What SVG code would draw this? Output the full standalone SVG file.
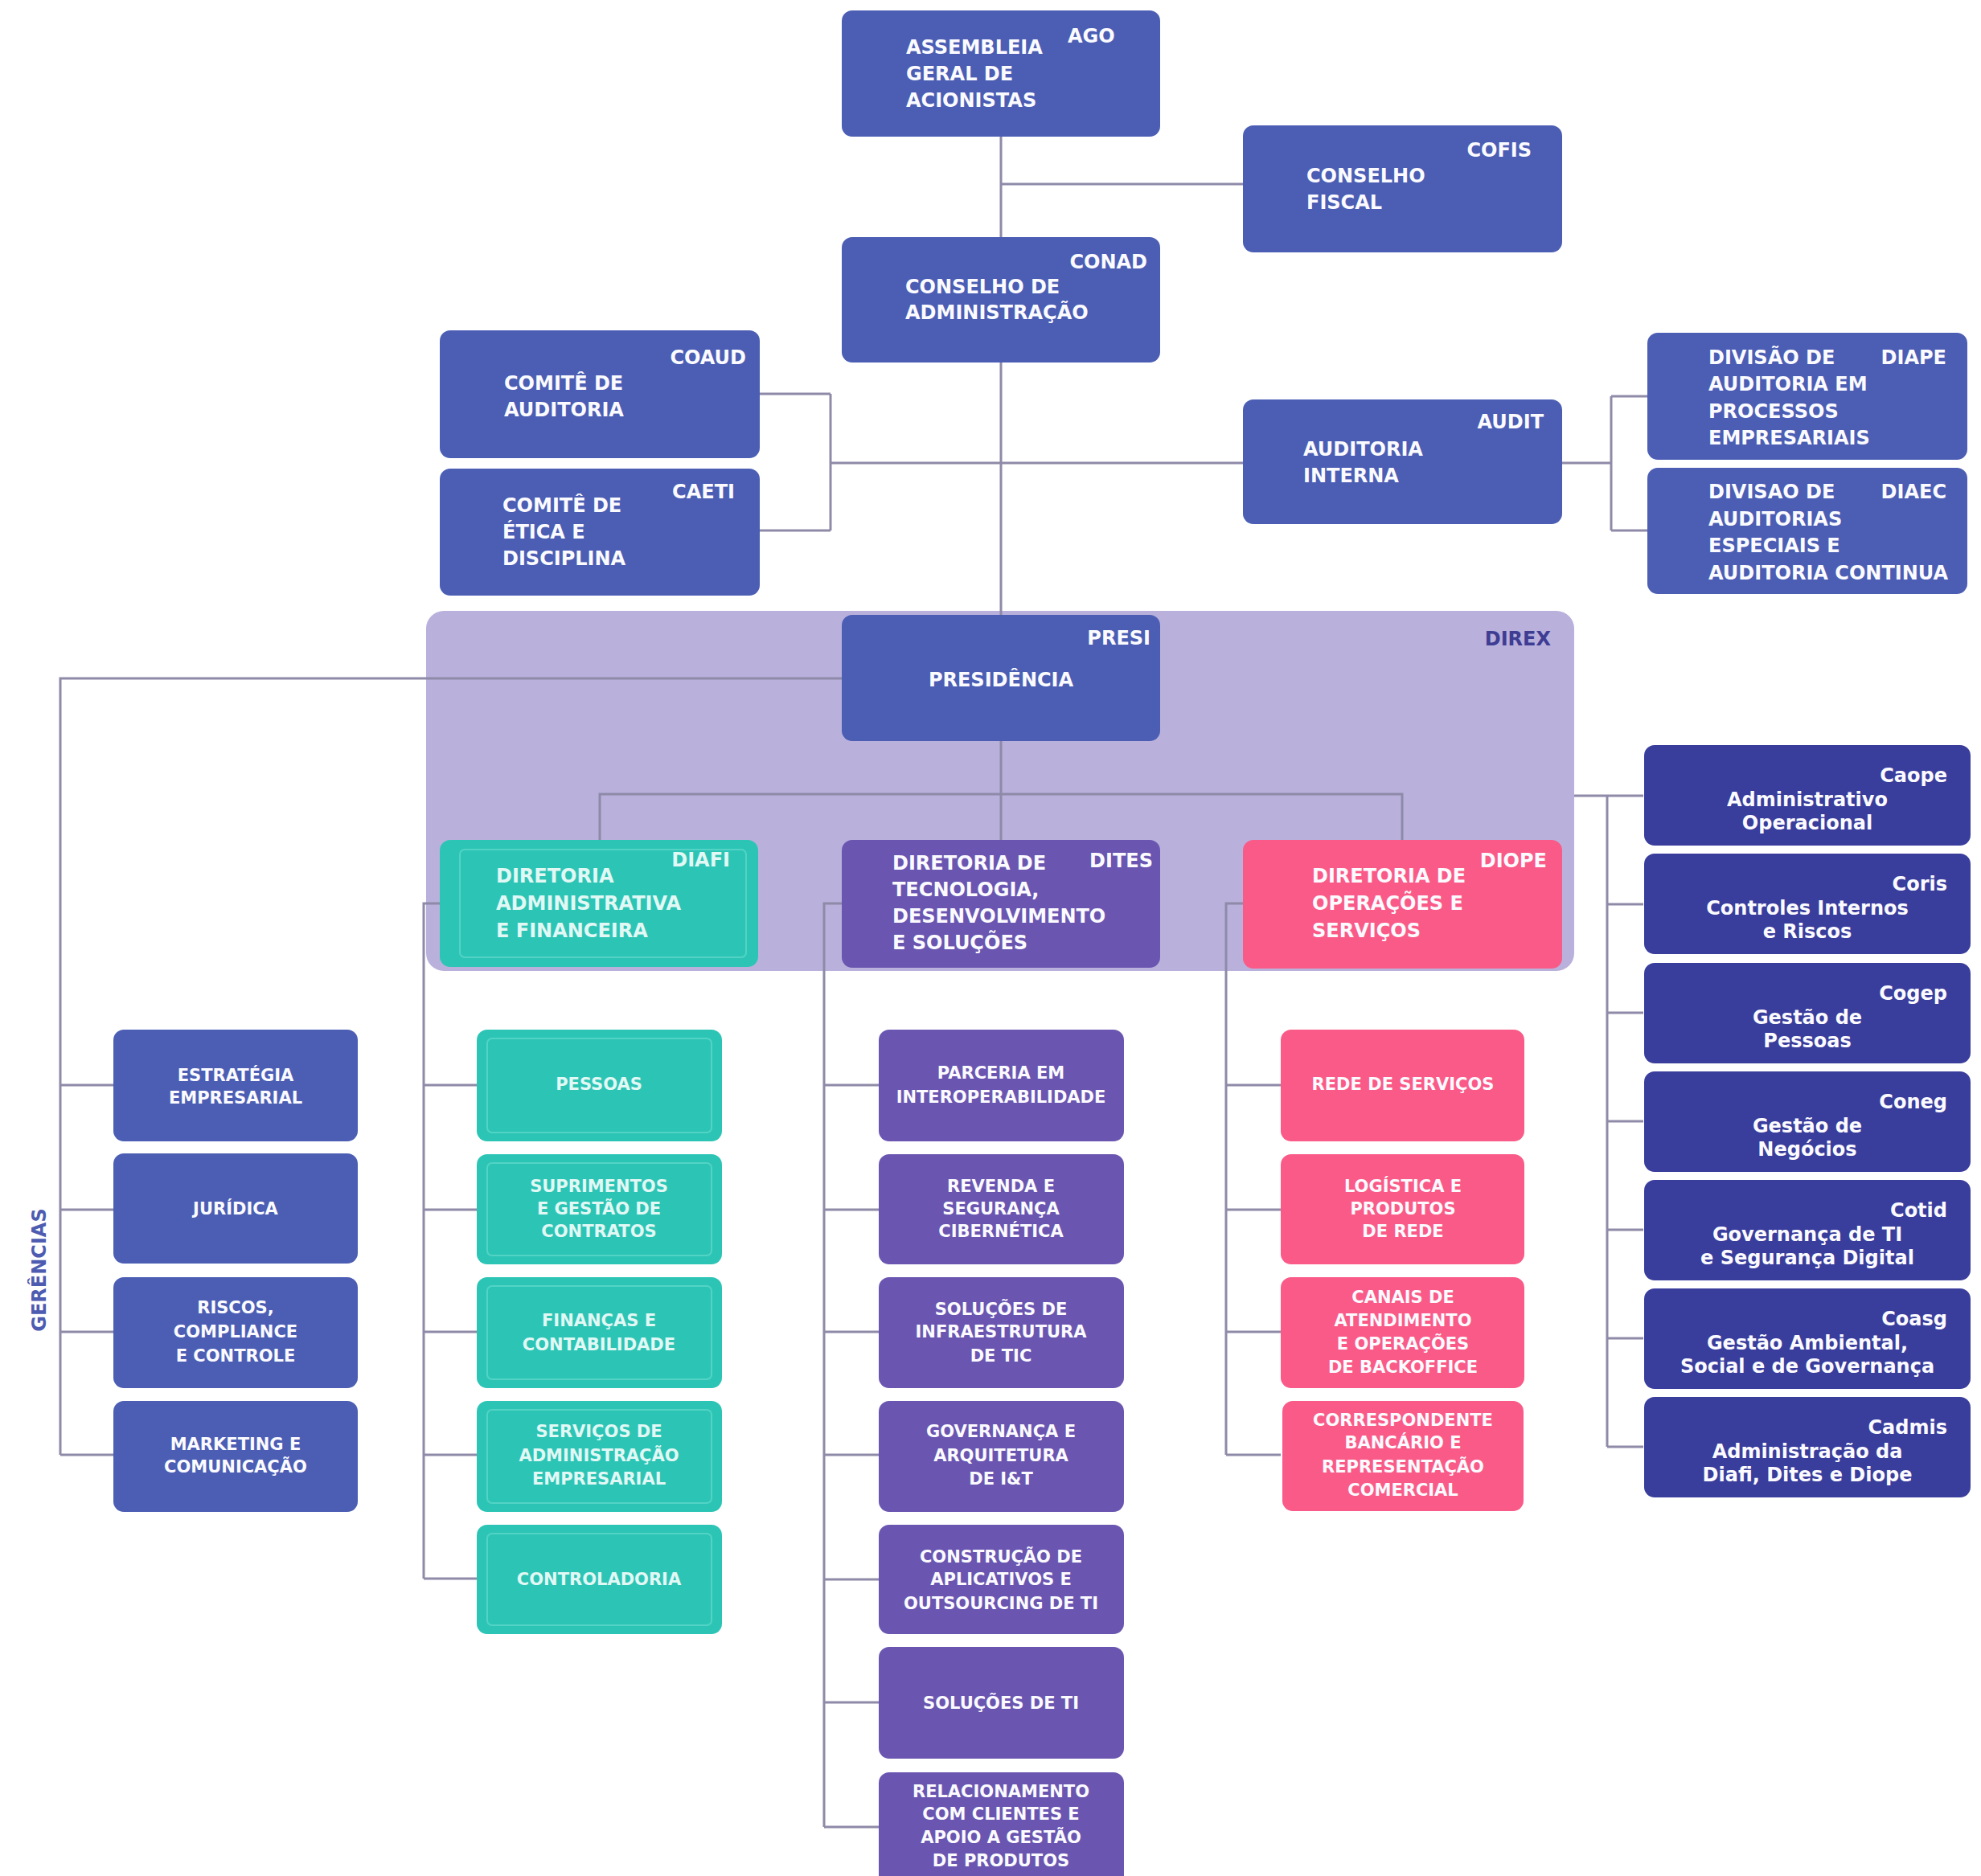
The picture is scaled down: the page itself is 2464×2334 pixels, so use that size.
<svg xmlns="http://www.w3.org/2000/svg" width="2464" height="2334" viewBox="0 0 2464 2334">
<style>
text{font-family:"DejaVu Sans","Liberation Sans",sans-serif;font-weight:bold;fill:#fbfbff}
.big{font-size:24px}
.sm{font-size:21px}
.c{text-anchor:middle}
.r{text-anchor:end}
.blue{fill:#4b5eb4}
.navy{fill:#393d9c}
.purple{fill:#6a56b1}
.teal{fill:#2cc5b5}
.pink{fill:#fa5a87}
.inner{fill:none;stroke-width:2}
.ti{stroke:#52d3c5}
.tt{fill:#e2f8f5}
.con{fill:none;stroke:#8e8aa8;stroke-width:3}
</style>
<rect width="2464" height="2334" fill="#ffffff"/>
<g id="direx">
<rect x="530" y="760" width="1428" height="448" rx="22" fill="#b9b1dc"/>
<text class="big r" x="1929" y="803" style="fill:#3e3c93">DIREX</text>
</g>
<g id="connectors">
<path class="con" d="M1245 170V295M1245 451V765M1245 922V1046M1245 229H1546"/>
<path class="con" d="M945 490H1033M945 660H1033M1033 490V660M1033 576H1546"/>
<path class="con" d="M1943 576H2004M2004 493V660M2004 493H2049M2004 660H2049"/>
<path class="con" d="M1047 844H75V1810M75 1350H141M75 1505H141M75 1657H141M75 1810H141"/>
<path class="con" d="M746 1046V988H1744V1046"/>
<path class="con" d="M547 1124H527V1964M527 1350H593M527 1505H593M527 1657H593M527 1810H593M527 1964H593"/>
<path class="con" d="M1047 1124H1025V2273M1025 1350H1093M1025 1505H1093M1025 1657H1093M1025 1810H1093M1025 1965H1093M1025 2118H1093M1025 2273H1093"/>
<path class="con" d="M1546 1124H1525V1810M1525 1350H1593M1525 1505H1593M1525 1657H1593M1525 1810H1593"/>
<path class="con" d="M1958 990H2044M1999 990V1800M1999 1125H2044M1999 1260H2044M1999 1395H2044M1999 1530H2044M1999 1665H2044M1999 1800H2044"/>
</g>
<g id="ago"><rect class="blue" x="1047" y="13" width="396" height="157" rx="13"/>
<text class="big" x="1127" y="67">ASSEMBLEIA</text><text class="big" x="1127" y="100">GERAL DE</text><text class="big" x="1127" y="133">ACIONISTAS</text>
<text class="big" x="1328" y="53">AGO</text></g>
<g id="cofis"><rect class="blue" x="1546" y="156" width="397" height="158" rx="13"/>
<text class="big" x="1625" y="227">CONSELHO</text><text class="big" x="1625" y="260">FISCAL</text>
<text class="big r" x="1905" y="195">COFIS</text></g>
<g id="conad"><rect class="blue" x="1047" y="295" width="396" height="156" rx="13"/>
<text class="big" x="1126" y="365">CONSELHO DE</text><text class="big" x="1126" y="397">ADMINISTRAÇÃO</text>
<text class="big r" x="1427" y="334">CONAD</text></g>
<g id="coaud"><rect class="blue" x="547" y="411" width="398" height="159" rx="13"/>
<text class="big" x="627" y="485">COMITÊ DE</text><text class="big" x="627" y="518">AUDITORIA</text>
<text class="big r" x="928" y="453">COAUD</text></g>
<g id="caeti"><rect class="blue" x="547" y="583" width="398" height="158" rx="13"/>
<text class="big" x="625" y="637">COMITÊ DE</text><text class="big" x="625" y="670">ÉTICA E</text><text class="big" x="625" y="703">DISCIPLINA</text>
<text class="big r" x="914" y="620">CAETI</text></g>
<g id="audit"><rect class="blue" x="1546" y="497" width="397" height="155" rx="13"/>
<text class="big" x="1621" y="567">AUDITORIA</text><text class="big" x="1621" y="600">INTERNA</text>
<text class="big r" x="1920" y="533">AUDIT</text></g>
<g id="diape"><rect class="blue" x="2049" y="414" width="398" height="158" rx="13"/>
<text class="big" x="2125" y="453">DIVISÃO DE</text><text class="big" x="2125" y="486">AUDITORIA EM</text><text class="big" x="2125" y="520">PROCESSOS</text><text class="big" x="2125" y="553">EMPRESARIAIS</text>
<text class="big r" x="2421" y="453">DIAPE</text></g>
<g id="diaec"><rect class="blue" x="2049" y="582" width="398" height="157" rx="13"/>
<text class="big" x="2125" y="620">DIVISAO DE</text><text class="big" x="2125" y="654">AUDITORIAS</text><text class="big" x="2125" y="687">ESPECIAIS E</text><text class="big" x="2125" y="721">AUDITORIA CONTINUA</text>
<text class="big r" x="2421" y="620">DIAEC</text></g>
<g id="presi"><rect class="blue" x="1047" y="765" width="396" height="157" rx="13"/>
<text class="big c" x="1245" y="854">PRESIDÊNCIA</text>
<text class="big r" x="1431" y="802">PRESI</text></g>
<g id="diafi"><rect class="teal" x="547" y="1045" width="396" height="158" rx="13"/>
<rect class="inner ti" x="572" y="1057" width="356" height="134" rx="6"/>
<text class="big tt" x="617" y="1098">DIRETORIA</text><text class="big tt" x="617" y="1132">ADMINISTRATIVA</text><text class="big tt" x="617" y="1166">E FINANCEIRA</text>
<text class="big r tt" x="908" y="1078">DIAFI</text></g>
<g id="dites"><rect class="purple" x="1047" y="1045" width="396" height="159" rx="13"/>
<text class="big" x="1110" y="1082">DIRETORIA DE</text><text class="big" x="1110" y="1115">TECNOLOGIA,</text><text class="big" x="1110" y="1148">DESENVOLVIMENTO</text><text class="big" x="1110" y="1181">E SOLUÇÕES</text>
<text class="big r" x="1434" y="1079">DITES</text></g>
<g id="diope"><rect class="pink" x="1546" y="1045" width="397" height="160" rx="13"/>
<text class="big" x="1632" y="1098">DIRETORIA DE</text><text class="big" x="1632" y="1132">OPERAÇÕES E</text><text class="big" x="1632" y="1166">SERVIÇOS</text>
<text class="big r" x="1924" y="1079">DIOPE</text></g>
<text id="gerencias" class="big c" transform="translate(57 1580) rotate(-90)" style="fill:#4d5bb0">GERÊNCIAS</text>
<g id="estrategia"><rect class="blue" x="141" y="1281" width="304" height="139" rx="13"/>
<text class="sm c" x="293" y="1345">ESTRATÉGIA</text><text class="sm c" x="293" y="1373">EMPRESARIAL</text></g>
<g id="juridica"><rect class="blue" x="141" y="1435" width="304" height="137" rx="13"/>
<text class="sm c" x="293" y="1511">JURÍDICA</text></g>
<g id="riscos"><rect class="blue" x="141" y="1589" width="304" height="138" rx="13"/>
<text class="sm c" x="293" y="1634">RISCOS,</text><text class="sm c" x="293" y="1664">COMPLIANCE</text><text class="sm c" x="293" y="1694">E CONTROLE</text></g>
<g id="marketing"><rect class="blue" x="141" y="1743" width="304" height="138" rx="13"/>
<text class="sm c" x="293" y="1804">MARKETING E</text><text class="sm c" x="293" y="1832">COMUNICAÇÃO</text></g>
<g id="pessoas"><rect class="teal" x="593" y="1281" width="305" height="139" rx="13"/><rect class="inner ti" x="606" y="1292" width="279" height="117" rx="6"/>
<text class="sm c tt" x="745" y="1356">PESSOAS</text></g>
<g id="suprimentos"><rect class="teal" x="593" y="1436" width="305" height="137" rx="13"/><rect class="inner ti" x="606" y="1447" width="279" height="115" rx="6"/>
<text class="sm c tt" x="745" y="1483">SUPRIMENTOS</text><text class="sm c tt" x="745" y="1511">E GESTÃO DE</text><text class="sm c tt" x="745" y="1539">CONTRATOS</text></g>
<g id="financas"><rect class="teal" x="593" y="1589" width="305" height="138" rx="13"/><rect class="inner ti" x="606" y="1600" width="279" height="116" rx="6"/>
<text class="sm c tt" x="745" y="1650">FINANÇAS E</text><text class="sm c tt" x="745" y="1680">CONTABILIDADE</text></g>
<g id="servicos"><rect class="teal" x="593" y="1743" width="305" height="138" rx="13"/><rect class="inner ti" x="606" y="1754" width="279" height="116" rx="6"/>
<text class="sm c tt" x="745" y="1788">SERVIÇOS DE</text><text class="sm c tt" x="745" y="1818">ADMINISTRAÇÃO</text><text class="sm c tt" x="745" y="1847">EMPRESARIAL</text></g>
<g id="controladoria"><rect class="teal" x="593" y="1897" width="305" height="136" rx="13"/><rect class="inner ti" x="606" y="1908" width="279" height="114" rx="6"/>
<text class="sm c tt" x="745" y="1972">CONTROLADORIA</text></g>
<g id="parceria"><rect class="purple" x="1093" y="1281" width="305" height="139" rx="13"/>
<text class="sm c" x="1245" y="1342">PARCERIA EM</text><text class="sm c" x="1245" y="1372">INTEROPERABILIDADE</text></g>
<g id="revenda"><rect class="purple" x="1093" y="1436" width="305" height="137" rx="13"/>
<text class="sm c" x="1245" y="1483">REVENDA E</text><text class="sm c" x="1245" y="1511">SEGURANÇA</text><text class="sm c" x="1245" y="1539">CIBERNÉTICA</text></g>
<g id="infra"><rect class="purple" x="1093" y="1589" width="305" height="138" rx="13"/>
<text class="sm c" x="1245" y="1636">SOLUÇÕES DE</text><text class="sm c" x="1245" y="1664">INFRAESTRUTURA</text><text class="sm c" x="1245" y="1694">DE TIC</text></g>
<g id="governanca"><rect class="purple" x="1093" y="1743" width="305" height="138" rx="13"/>
<text class="sm c" x="1245" y="1788">GOVERNANÇA E</text><text class="sm c" x="1245" y="1818">ARQUITETURA</text><text class="sm c" x="1245" y="1847">DE I&amp;T</text></g>
<g id="construcao"><rect class="purple" x="1093" y="1897" width="305" height="136" rx="13"/>
<text class="sm c" x="1245" y="1944">CONSTRUÇÃO DE</text><text class="sm c" x="1245" y="1972">APLICATIVOS E</text><text class="sm c" x="1245" y="2002">OUTSOURCING DE TI</text></g>
<g id="solucoesti"><rect class="purple" x="1093" y="2049" width="305" height="139" rx="13"/>
<text class="sm c" x="1245" y="2126">SOLUÇÕES DE TI</text></g>
<g id="relacionamento"><rect class="purple" x="1093" y="2205" width="305" height="145" rx="13"/>
<text class="sm c" x="1245" y="2236">RELACIONAMENTO</text><text class="sm c" x="1245" y="2264">COM CLIENTES E</text><text class="sm c" x="1245" y="2293">APOIO A GESTÃO</text><text class="sm c" x="1245" y="2322">DE PRODUTOS</text></g>
<g id="rede"><rect class="pink" x="1593" y="1281" width="303" height="139" rx="13"/>
<text class="sm c" x="1745" y="1356">REDE DE SERVIÇOS</text></g>
<g id="logistica"><rect class="pink" x="1593" y="1436" width="303" height="137" rx="13"/>
<text class="sm c" x="1745" y="1483">LOGÍSTICA E</text><text class="sm c" x="1745" y="1511">PRODUTOS</text><text class="sm c" x="1745" y="1539">DE REDE</text></g>
<g id="canais"><rect class="pink" x="1593" y="1589" width="303" height="138" rx="13"/>
<text class="sm c" x="1745" y="1621">CANAIS DE</text><text class="sm c" x="1745" y="1650">ATENDIMENTO</text><text class="sm c" x="1745" y="1679">E OPERAÇÕES</text><text class="sm c" x="1745" y="1708">DE BACKOFFICE</text></g>
<g id="correspondente"><rect class="pink" x="1595" y="1743" width="300" height="137" rx="13"/>
<text class="sm c" x="1745" y="1774">CORRESPONDENTE</text><text class="sm c" x="1745" y="1802">BANCÁRIO E</text><text class="sm c" x="1745" y="1832">REPRESENTAÇÃO</text><text class="sm c" x="1745" y="1861">COMERCIAL</text></g>
<g id="caope"><rect class="navy" x="2045" y="927" width="406" height="125" rx="13"/>
<text class="big r" x="2422" y="973">Caope</text><text class="big c" x="2248" y="1003">Administrativo</text><text class="big c" x="2248" y="1032">Operacional</text></g>
<g id="coris"><rect class="navy" x="2045" y="1062" width="406" height="125" rx="13"/>
<text class="big r" x="2422" y="1108">Coris</text><text class="big c" x="2248" y="1138">Controles Internos</text><text class="big c" x="2248" y="1167">e Riscos</text></g>
<g id="cogep"><rect class="navy" x="2045" y="1198" width="406" height="125" rx="13"/>
<text class="big r" x="2422" y="1244">Cogep</text><text class="big c" x="2248" y="1274">Gestão de</text><text class="big c" x="2248" y="1303">Pessoas</text></g>
<g id="coneg"><rect class="navy" x="2045" y="1333" width="406" height="125" rx="13"/>
<text class="big r" x="2422" y="1379">Coneg</text><text class="big c" x="2248" y="1409">Gestão de</text><text class="big c" x="2248" y="1438">Negócios</text></g>
<g id="cotid"><rect class="navy" x="2045" y="1468" width="406" height="125" rx="13"/>
<text class="big r" x="2422" y="1514">Cotid</text><text class="big c" x="2248" y="1544">Governança de TI</text><text class="big c" x="2248" y="1573">e Segurança Digital</text></g>
<g id="coasg"><rect class="navy" x="2045" y="1603" width="406" height="125" rx="13"/>
<text class="big r" x="2422" y="1649">Coasg</text><text class="big c" x="2248" y="1679">Gestão Ambiental,</text><text class="big c" x="2248" y="1708">Social e de Governança</text></g>
<g id="cadmis"><rect class="navy" x="2045" y="1738" width="406" height="125" rx="13"/>
<text class="big r" x="2422" y="1784">Cadmis</text><text class="big c" x="2248" y="1814">Administração da</text><text class="big c" x="2248" y="1843">Diafi, Dites e Diope</text></g>
</svg>
